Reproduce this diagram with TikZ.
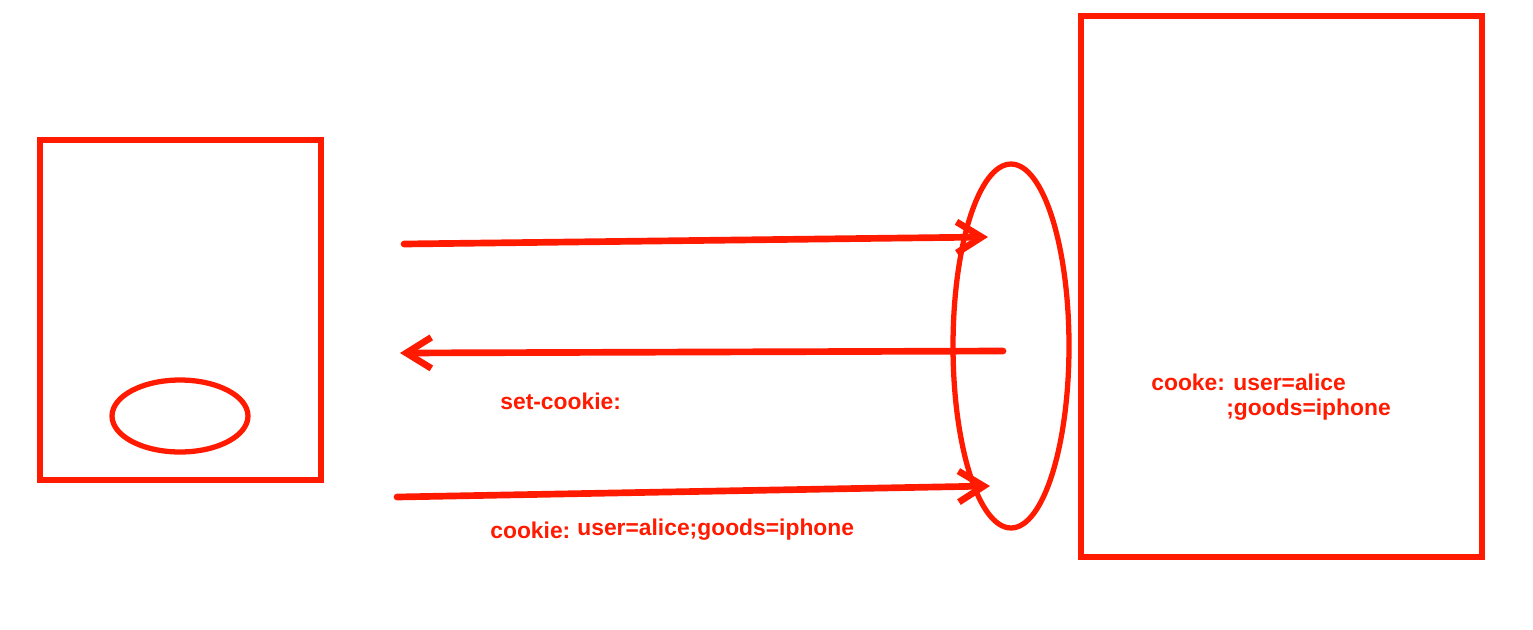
\documentclass[tikz,border=0pt]{standalone}
\usepackage{fontspec}
\setmainfont{Liberation Sans}
\usetikzlibrary{positioning, shapes.geometric, arrows.meta}
\definecolor{pen}{RGB}{255,26,0}
\tikzstyle{Box} = [draw=pen, line width=3.4pt, rectangle, inner sep=0pt]
\tikzstyle{Oval} = [draw=pen, line width=3pt, ellipse, inner sep=0pt]
\tikzstyle{Msg} = [draw=pen, line width=3.8pt, line cap=round, line join=round, -{Straight Barb[length=0.5cm, width=0.62cm]}]
\tikzstyle{Label} = [text=pen, font=\fontsize{13}{15}\selectfont\bfseries, inner sep=0pt]

\begin{document}
\begin{tikzpicture}[x=0.02cm, y=-0.02cm]
    \useasboundingbox (0,0) rectangle (1533,629);

    \node[Box, minimum width=5.62cm, minimum height=6.8cm] (browser) at (180.5,310) {};
    \node[Oval, minimum width=2.72cm, minimum height=1.44cm] (jar) at (180,416) {};
    \node[Box, minimum width=8.02cm, minimum height=10.82cm] (server) at (1281.5,286.5) {};
    \node[Oval, minimum width=2.32cm, minimum height=7.28cm] (session) at (1011,346) {};

    \coordinate (req-from) at (404,244);
    \coordinate (req-to) at (988,237);
    \coordinate (resp-from) at (1003,351);
    \coordinate (resp-to) at (400,353);
    \coordinate (req2-from) at (397,497);
    \coordinate (req2-to) at (990,486);

    \draw[Msg] (req-from) -- (req-to);
    \draw[Msg] (resp-from) -- (resp-to);
    \draw[Msg] (req2-from) -- (req2-to);

    \node[Label, anchor=base west] (set) at (500,409) {set-cookie:};
    \node[Label, anchor=base west] (sent) at (490,538) {cookie:};
    \node[Label, anchor=base west] (sent-value) at (577,535) {user=alice;goods=iphone};
    \node[Label, anchor=base west] (stored) at (1151,390) {cooke: user=alice};
    \node[Label, anchor=base west] (stored-more) at (1226,415) {;goods=iphone};
  \end{tikzpicture}
\end{document}
